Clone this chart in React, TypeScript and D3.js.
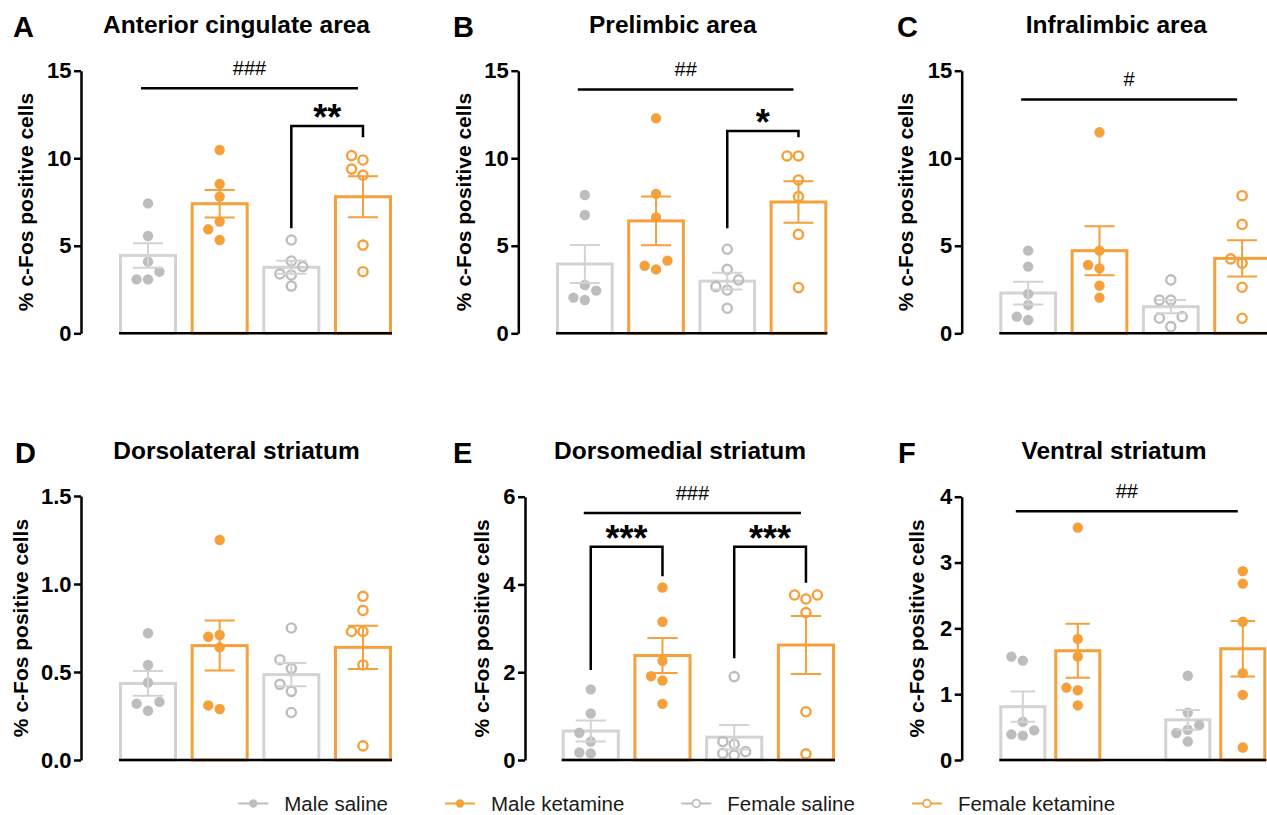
import React, { useEffect, useRef } from 'react';
import * as d3 from 'd3';

// groups, in plotting order
const groups = ['Male saline', 'Male ketamine', 'Female saline', 'Female ketamine'];
const groupKeys = ['MS', 'MK', 'FS', 'FK'];

// A - Anterior cingulate area
const acaMeans = [4.45, 7.4, 3.77, 7.8];
const acaSem = [0.7, 0.79, 0.37, 1.17];
const acaPoints = [
  [7.42, 5.56, 4.09, 3.52, 3.08, 3.08],
  [10.47, 8.53, 7.81, 6.38, 5.94, 5.33],
  [5.33, 4.13, 3.81, 3.39, 3.33, 2.7],
  [10.15, 9.9, 9.38, 9.04, 5.04, 3.52],
];

// B - Prelimbic area
const plMeans = [3.96, 6.42, 2.98, 7.5];
const plSem = [1.08, 1.39, 0.48, 1.19];
const plPoints = [
  [7.9, 6.76, 2.76, 2.44, 2.04, 1.9],
  [12.28, 7.96, 6.62, 4.15, 3.86, 3.65],
  [4.8, 3.65, 3.05, 2.67, 2.47, 1.43],
  [10.13, 10.13, 8.76, 7.81, 5.65, 2.61],
];

// C - Infralimbic area
const ilMeans = [2.3, 4.72, 1.52, 4.28];
const ilSem = [0.65, 1.4, 0.38, 1.03];
const ilPoints = [
  [4.72, 3.81, 2.25, 1.62, 0.95, 0.76],
  [11.48, 4.72, 3.9, 3.71, 2.72, 2.04],
  [3.05, 1.9, 1.9, 0.95, 0.86, 0.38],
  [7.86, 6.22, 4.25, 4.0, 2.63, 0.86],
];

// D - Dorsolateral striatum
const dlsMeans = [0.435, 0.65, 0.485, 0.64];
const dlsSem = [0.07, 0.142, 0.066, 0.123];
const dlsPoints = [
  [0.72, 0.54, 0.44, 0.33, 0.32, 0.28],
  [1.25, 0.71, 0.7, 0.64, 0.31, 0.29],
  [0.75, 0.57, 0.52, 0.43, 0.39, 0.27],
  [0.93, 0.85, 0.73, 0.73, 0.54, 0.08],
];

// E - Dorsomedial striatum
const dmsMeans = [0.66, 2.38, 0.52, 2.62];
const dmsSem = [0.24, 0.4, 0.28, 0.66];
const dmsPoints = [
  [1.61, 1.06, 0.62, 0.42, 0.17, 0.15],
  [3.93, 3.15, 2.26, 1.91, 1.81, 1.28],
  [1.9, 0.42, 0.36, 0.19, 0.15, 0.11],
  [3.76, 3.76, 3.67, 3.36, 1.1, 0.14],
];

// F - Ventral striatum
const vsMeans = [0.81, 1.66, 0.61, 1.69];
const vsSem = [0.23, 0.41, 0.15, 0.42];
const vsPoints = [
  [1.57, 1.51, 0.58, 0.45, 0.39, 0.37],
  [3.53, 1.84, 1.57, 1.1, 1.06, 0.83],
  [1.28, 0.72, 0.53, 0.46, 0.41, 0.28],
  [2.87, 2.68, 2.1, 1.32, 0.99, 0.19],
];

// tick labels
const ticks15 = [0, 5, 10, 15];
const ticks15d = [0, 0.5, 1.0, 1.5];
const ticks6 = [0, 2, 4, 6];
const ticks4 = [0, 1, 2, 3, 4];

// significance marks: overall (#) line, and brackets between two groups
const acaHash = { label: '###', y: 14.0 };
const acaBrackets = [{ from: 'FS', to: 'FK', left: 6.0, top: 11.84, right: 11.2, label: '**' }];
const plHash = { label: '##', y: 13.93 };
const plBrackets = [{ from: 'FS', to: 'FK', left: 6.0, top: 11.55, right: 11.2, label: '*' }];
const ilHash = { label: '#', y: 13.36 };
const dmsHash = { label: '###', y: 5.63 };
const dmsBrackets = [
  { from: 'MS', to: 'MK', left: 2.05, top: 4.86, right: 4.19, label: '***' },
  { from: 'FS', to: 'FK', left: 2.32, top: 4.86, right: 4.04, label: '***' },
];
const vsHash = { label: '##', y: 3.78 };

const FONT = "'Liberation Sans', Arial, Helvetica, sans-serif";
const ORANGE = '#F5A03A';
const GRAY_BAR = '#D3D3D3';
const GRAY_PT = '#BDBDBD';
const colors = [GRAY_PT, ORANGE, GRAY_PT, ORANGE];
const barColors = [GRAY_BAR, ORANGE, GRAY_BAR, ORANGE];

const panels = [
  { letter: 'A', title: 'Anterior cingulate area', means: acaMeans, sem: acaSem, points: acaPoints,
    hash: acaHash, brackets: acaBrackets, domain: [0, 15], ticks: ticks15, fmt: d3.format('d'),
    axisX: 81, xRange: [119, 392], yTop: 70.7, yBottom: 333.3, labelOff: 56, letterX: 13, row: 33 },
  { letter: 'B', title: 'Prelimbic area', means: plMeans, sem: plSem, points: plPoints,
    hash: plHash, brackets: plBrackets, domain: [0, 15], ticks: ticks15, fmt: d3.format('d'),
    axisX: 518.3, xRange: [556, 827.3], yTop: 70.7, yBottom: 333.3, labelOff: 55, letterX: 453, row: 33 },
  { letter: 'C', title: 'Infralimbic area', means: ilMeans, sem: ilSem, points: ilPoints,
    hash: ilHash, brackets: [], domain: [0, 15], ticks: ticks15, fmt: d3.format('d'),
    axisX: 961.7, xRange: [999.3, 1271], yTop: 70.7, yBottom: 333.3, labelOff: 56.7, letterX: 897, row: 33 },
  { letter: 'D', title: 'Dorsolateral striatum', means: dlsMeans, sem: dlsSem, points: dlsPoints,
    hash: null, brackets: [], domain: [0, 1.5], ticks: ticks15d, fmt: d3.format('.1f'),
    axisX: 81, xRange: [119, 392], yTop: 496, yBottom: 760, labelOff: 61, letterX: 15, row: 459 },
  { letter: 'E', title: 'Dorsomedial striatum', means: dmsMeans, sem: dmsSem, points: dmsPoints,
    hash: dmsHash, brackets: dmsBrackets, domain: [0, 6], ticks: ticks6, fmt: d3.format('d'),
    axisX: 525, xRange: [561.7, 835], yTop: 496.7, yBottom: 760, labelOff: 44, letterX: 453, row: 459 },
  { letter: 'F', title: 'Ventral striatum', means: vsMeans, sem: vsSem, points: vsPoints,
    hash: vsHash, brackets: [], domain: [0, 4], ticks: ticks4, fmt: d3.format('d'),
    axisX: 961.7, xRange: [999.3, 1266.3], yTop: 496.7, yBottom: 760, labelOff: 45, letterX: 898, row: 459,
    gap: true, allFilled: true },
];

// simple beeswarm so dots with close values sit side by side
function swarm(values, y, cx, r) {
  const step = 2 * r + 1;
  const placed = [];
  const order = values.map((v, i) => i).sort((a, b) => values[a] - values[b]);
  const out = new Array(values.length);
  order.forEach(i => {
    const py = y(values[i]);
    for (const k of [0, -1, 1, -2, 2, -3, 3]) {
      const px = cx + k * step;
      if (placed.every(p => Math.hypot(p[0] - px, p[1] - py) >= step - 0.5)) {
        placed.push([px, py]);
        out[i] = [px, py];
        break;
      }
    }
  });
  return out;
}

function drawPanel(svg, p) {
  const g = svg.append('g');
  const y = d3.scaleLinear().domain(p.domain).range([p.yBottom, p.yTop]);
  const slots = p.gap ? ['MS', 'MK', 'gap', 'FS', 'FK'] : groupKeys;
  const x = d3.scaleBand().domain(slots).range(p.xRange)
    .paddingInner(p.gap ? 0.145 : 0.19).paddingOuter(0);
  const bw = x.bandwidth();
  const cx = k => x(k) + bw / 2;

  // y axis
  const axis = d3.axisLeft(y).tickValues(p.ticks).tickFormat(p.fmt)
    .tickSize(7).tickSizeOuter(0).tickPadding(2.5);
  const ag = g.append('g').attr('transform', `translate(${p.axisX},0)`).call(axis);
  ag.select('.domain').attr('stroke', '#000').attr('stroke-width', 2.5);
  ag.selectAll('.tick line').attr('stroke', '#000').attr('stroke-width', 2.5);
  ag.selectAll('.tick text')
    .attr('font-family', FONT).attr('font-size', 22).attr('font-weight', 'bold').attr('fill', '#000');

  // bars
  groupKeys.forEach((k, i) => {
    g.append('rect')
      .attr('x', x(k) + 1.5)
      .attr('y', y(p.means[i]))
      .attr('width', bw - 3)
      .attr('height', p.yBottom - y(p.means[i]))
      .attr('fill', '#fff')
      .attr('stroke', barColors[i])
      .attr('stroke-width', 3);
  });

  // individual animals
  groupKeys.forEach((k, i) => {
    const hollow = (i === 2 || i === 3) && !p.allFilled;
    const pos = swarm(p.points[i], y, cx(k), 5.2);
    g.selectAll(null).data(pos).enter().append('circle')
      .attr('cx', d => d[0]).attr('cy', d => d[1])
      .attr('r', hollow ? 4.6 : 5.2)
      .attr('fill', hollow ? 'none' : colors[i])
      .attr('stroke', hollow ? colors[i] : 'none')
      .attr('stroke-width', 2.4);
  });

  // mean +- SEM
  groupKeys.forEach((k, i) => {
    const c = cx(k);
    const lo = y(p.means[i] - p.sem[i]);
    const hi = y(p.means[i] + p.sem[i]);
    const cap = bw * 0.26;
    const col = barColors[i] === GRAY_BAR ? GRAY_BAR : ORANGE;
    g.append('path')
      .attr('d', `M${c},${lo}V${hi}M${c - cap},${hi}H${c + cap}M${c - cap},${lo}H${c + cap}`)
      .attr('fill', 'none').attr('stroke', col).attr('stroke-width', 2);
  });

  // baseline
  g.append('line')
    .attr('x1', x('MS')).attr('x2', x('FK') + bw)
    .attr('y1', p.yBottom).attr('y2', p.yBottom)
    .attr('stroke', '#000').attr('stroke-width', 2.5);

  // overall effect line
  if (p.hash) {
    const x1 = cx('MS') - 7;
    const x2 = cx('FK') - 5;
    const hy = y(p.hash.y);
    g.append('line').attr('x1', x1).attr('x2', x2).attr('y1', hy).attr('y2', hy)
      .attr('stroke', '#000').attr('stroke-width', 2.5);
    g.append('text').attr('x', (x1 + x2) / 2).attr('y', hy - 13)
      .attr('text-anchor', 'middle').attr('font-family', FONT).attr('font-size', 20)
      .attr('fill', '#000').text(p.hash.label);
  }

  // pairwise brackets
  p.brackets.forEach(b => {
    const xl = cx(b.from);
    const xr = cx(b.to);
    g.append('path')
      .attr('d', `M${xl},${y(b.left)}V${y(b.top)}H${xr}V${y(b.right)}`)
      .attr('fill', 'none').attr('stroke', '#000').attr('stroke-width', 2.5);
    g.append('text').attr('x', (xl + xr) / 2).attr('y', y(b.top) + 4)
      .attr('text-anchor', 'middle').attr('font-family', FONT).attr('font-size', 36)
      .attr('font-weight', 'bold').attr('fill', '#000').text(b.label);
  });

  // titles and labels
  g.append('text').attr('x', (p.axisX + p.xRange[1]) / 2).attr('y', p.row)
    .attr('text-anchor', 'middle').attr('font-family', FONT).attr('font-size', 24.5)
    .attr('font-weight', 'bold').attr('fill', '#000').text(p.title);
  g.append('text').attr('x', p.letterX).attr('y', p.row + 3.5)
    .attr('font-family', FONT).attr('font-size', 29)
    .attr('font-weight', 'bold').attr('fill', '#000').text(p.letter);
  g.append('text')
    .attr('transform', `translate(${p.axisX - p.labelOff},${(p.yTop + p.yBottom) / 2}) rotate(-90)`)
    .attr('text-anchor', 'middle').attr('dy', '0.36em')
    .attr('font-family', FONT).attr('font-size', 21).attr('font-weight', 'bold')
    .attr('fill', '#000').text('% c-Fos positive cells');
}

function drawLegend(svg) {
  const lg = svg.append('g');
  const ly = 803.5;
  let mx = 253.3;
  groups.forEach((name, i) => {
    const hollow = i >= 2;
    lg.append('line').attr('x1', mx - 15).attr('x2', mx + 15).attr('y1', ly).attr('y2', ly)
      .attr('stroke', colors[i]).attr('stroke-width', 2);
    lg.append('circle').attr('cx', mx).attr('cy', ly).attr('r', hollow ? 3.8 : 4.2)
      .attr('fill', hollow ? '#fff' : colors[i])
      .attr('stroke', hollow ? colors[i] : 'none').attr('stroke-width', 1.8);
    const t = lg.append('text').attr('x', mx + 31).attr('y', ly + 7)
      .attr('font-family', FONT).attr('font-size', 20.5).attr('fill', '#1a1a1a').text(name);
    const w = t.node().getComputedTextLength();
    mx = mx + 31 + w + 72;
  });
}

const App = () => {
  const svgRef = useRef(null);

  useEffect(() => {
    const svg = d3.select(svgRef.current);
    svg.selectAll('*').remove();
    panels.forEach(p => drawPanel(svg, p));
    drawLegend(svg);
  }, []);

  return (
    <svg
      ref={svgRef}
      width={1267}
      height={815}
      style={{ position: 'absolute', left: 0, top: 0, background: '#fff' }}
    ></svg>
  );
};

export default App;
